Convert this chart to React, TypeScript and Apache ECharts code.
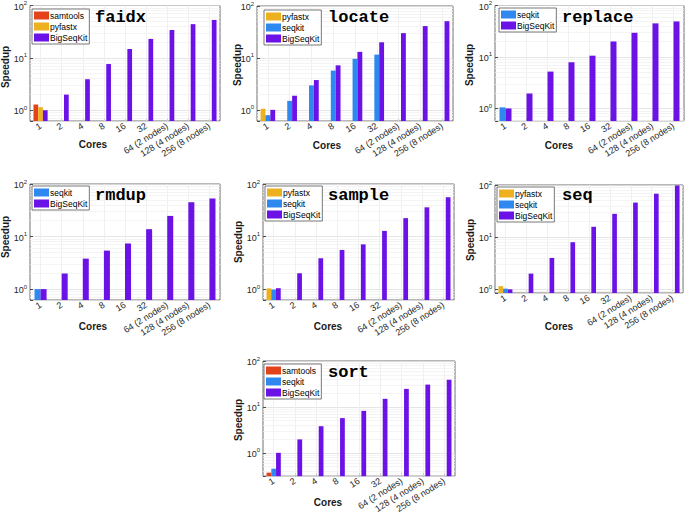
import React, { useEffect, useRef } from 'react';
import * as echarts from 'echarts';

const CORES = ['1', '2', '4', '8', '16', '32', '64 (2 nodes)', '128 (4 nodes)', '256 (8 nodes)'];

const faidxSamtools = [1.28];
const faidxPyfastx = [1.13];
const faidxBigSeqKit = [1.0, 1.98, 3.9, 7.6, 14.8, 23, 34, 44, 53];

const locatePyfastx = [1.05];
const locateSeqkit = [0.79, 1.49, 2.96, 5.7, 9.6, 11.6];
const locateBigSeqKit = [1.0, 1.87, 3.75, 7.2, 13.1, 20, 30, 41, 51];

const replaceSeqkit = [1.05];
const replaceBigSeqKit = [1.0, 1.95, 5.2, 7.9, 10.6, 20, 29.5, 45, 49];

const rmdupSeqkit = [1.0];
const rmdupBigSeqKit = [1.0, 1.98, 3.8, 5.4, 7.4, 13.8, 24.7, 45, 53];

const samplePyfastx = [1.03];
const sampleSeqkit = [0.98];
const sampleBigSeqKit = [1.04, 2.0, 3.86, 5.56, 7.1, 12.8, 22.4, 36, 56];

const seqPyfastx = [1.15];
const seqSeqkit = [1.03];
const seqBigSeqKit = [1.0, 2.0, 4.0, 8.0, 15.8, 28, 46, 68, 98];

const sortSamtools = [0.37];
const sortSeqkit = [0.45];
const sortBigSeqKit = [1.0, 1.96, 3.8, 5.7, 8.2, 15, 24.7, 30.6, 39];

const COLORS: Record<string, string> = {
  samtools: '#E2431B',
  pyfastx: '#EDB120',
  seqkit: '#2E88F0',
  BigSeqKit: '#6B13E6',
};

type Panel = {
  title: string;
  series: [string, number[]][];
  ymin: number;
  grid: { left: number; top: number; width: number; height: number };
  legend: [number, number];
  titlePos: [number, number];
  coresPos: [number, number];
  speedPos: [number, number];
};

const panels: Panel[] = [
  {
    title: 'faidx',
    series: [['samtools', faidxSamtools], ['pyfastx', faidxPyfastx], ['BigSeqKit', faidxBigSeqKit]],
    ymin: 0.62,
    grid: { left: 30, top: 5, width: 190, height: 116 },
    legend: [32, 9], titlePos: [95, 17], coresPos: [93, 144], speedPos: [5, 67],
  },
  {
    title: 'locate',
    series: [['pyfastx', locatePyfastx], ['seqkit', locateSeqkit], ['BigSeqKit', locateBigSeqKit]],
    ymin: 0.61,
    grid: { left: 257, top: 6, width: 196, height: 115 },
    legend: [264, 10], titlePos: [328, 17], coresPos: [327, 145], speedPos: [237, 65],
  },
  {
    title: 'replace',
    series: [['seqkit', replaceSeqkit], ['BigSeqKit', replaceBigSeqKit]],
    ymin: 0.57,
    grid: { left: 495, top: 5, width: 189, height: 116 },
    legend: [499, 8], titlePos: [562, 17], coresPos: [559, 145], speedPos: [469, 65],
  },
  {
    title: 'rmdup',
    series: [['seqkit', rmdupSeqkit], ['BigSeqKit', rmdupBigSeqKit]],
    ymin: 0.62,
    grid: { left: 30, top: 184, width: 190, height: 116 },
    legend: [32, 186], titlePos: [95, 195], coresPos: [93, 326], speedPos: [5, 237],
  },
  {
    title: 'sample',
    series: [['pyfastx', samplePyfastx], ['seqkit', sampleSeqkit], ['BigSeqKit', sampleBigSeqKit]],
    ymin: 0.62,
    grid: { left: 263, top: 184, width: 191, height: 116 },
    legend: [265, 186], titlePos: [328, 195], coresPos: [328, 326], speedPos: [238, 242],
  },
  {
    title: 'seq',
    series: [['pyfastx', seqPyfastx], ['seqkit', seqSeqkit], ['BigSeqKit', seqBigSeqKit]],
    ymin: 0.85,
    grid: { left: 495, top: 185, width: 188, height: 108 },
    legend: [497, 187], titlePos: [562, 195], coresPos: [559, 326], speedPos: [470, 240],
  },
  {
    title: 'sort',
    series: [['samtools', sortSamtools], ['seqkit', sortSeqkit], ['BigSeqKit', sortBigSeqKit]],
    ymin: 0.31,
    grid: { left: 263, top: 361, width: 192, height: 117 },
    legend: [264, 364], titlePos: [328, 372], coresPos: [328, 502], speedPos: [238, 420],
  },
];

const FONT = '"Liberation Sans", Arial, Helvetica, sans-serif';

function buildOption() {
  const grid: any[] = [];
  const xAxis: any[] = [];
  const yAxis: any[] = [];
  const series: any[] = [];
  const legend: any[] = [];
  const graphic: any[] = [];

  panels.forEach((p, i) => {
    grid.push({
      ...p.grid,
      show: true,
      borderColor: '#4d4d4d',
      borderWidth: 0.8,
      backgroundColor: '#fff',
      containLabel: false,
    });
    xAxis.push({
      type: 'category',
      gridIndex: i,
      data: CORES,
      axisLine: { show: false },
      axisTick: { show: true, alignWithLabel: true, inside: true, length: 3, lineStyle: { color: '#4d4d4d' } },
      axisLabel: { interval: 0, rotate: 32, fontSize: 9, margin: 4, color: '#262626', fontFamily: FONT },
      splitLine: { show: false },
    });
    yAxis.push({
      type: 'log',
      logBase: 10,
      gridIndex: i,
      min: p.ymin,
      max: 100,
      startValue: p.ymin,
      axisLine: { show: false },
      axisTick: { show: true, inside: true, length: 3, lineStyle: { color: '#4d4d4d' } },
      splitLine: { show: true, lineStyle: { color: '#dedede', width: 0.8 } },
      axisLabel: {
        margin: 3,
        formatter: (v: number) => {
          const e = Math.log10(v);
          const r = Math.round(e);
          if (Math.abs(e - r) > 1e-6) return '';
          return `{b|10}{s|${r}}`;
        },
        rich: {
          b: { fontSize: 9, color: '#262626', fontFamily: FONT, verticalAlign: 'bottom' },
          s: { fontSize: 6, color: '#262626', fontFamily: FONT, verticalAlign: 'bottom', padding: [0, 0, 5, 0] },
        },
      },
    });

    // faint grid lines (category centres and minor log lines)
    const lines: any[] = [];
    CORES.forEach((_, k) => lines.push({ xAxis: k }));
    for (let d = -1; d < 2; d++) {
      for (let m = 2; m <= 9; m++) {
        const v = m * Math.pow(10, d);
        if (v > p.ymin && v < 100) lines.push({ yAxis: v, lineStyle: { color: '#f1f1f1' } });
      }
    }
    series.push({
      type: 'line',
      name: `_grid${i}`,
      xAxisIndex: i,
      yAxisIndex: i,
      data: [],
      silent: true,
      z: 0,
      markLine: {
        silent: true,
        z: 1,
        symbol: ['none', 'none'],
        label: { show: false },
        lineStyle: { color: '#ececec', width: 0.8, type: 'solid' },
        emphasis: { disabled: true },
        data: lines,
      },
    });

    const n = p.series.length;
    p.series.forEach(([name, data]) => {
      series.push({
        type: 'bar',
        name,
        xAxisIndex: i,
        yAxisIndex: i,
        data,
        z: 8,
        barGap: '0%',
        barCategoryGap: n === 3 ? '33%' : '43%',
        itemStyle: { color: COLORS[name] },
        emphasis: { disabled: true },
      });
    });

    legend.push({
      show: true,
      data: p.series.map((s) => s[0]),
      orient: 'vertical',
      left: p.legend[0],
      top: p.legend[1],
      itemWidth: 15,
      itemHeight: 8,
      itemGap: 2,
      icon: 'rect',
      selectedMode: false,
      backgroundColor: '#fff',
      borderColor: '#555',
      borderWidth: 0.8,
      borderRadius: 0,
      padding: [2, 2, 2, 2],
      textStyle: { fontSize: 8.5, color: '#000', fontFamily: FONT, padding: [0, 0, 0, -4] },
      z: 20,
    });

    graphic.push({
      type: 'text',
      x: p.titlePos[0],
      y: p.titlePos[1],
      z: 30,
      style: {
        text: p.title,
        font: 'bold 17px "Liberation Mono", "Courier New", monospace',
        fill: '#000',
        textAlign: 'left',
        textVerticalAlign: 'middle',
      },
    });
    graphic.push({
      type: 'text',
      x: p.coresPos[0],
      y: p.coresPos[1],
      style: {
        text: 'Cores',
        font: `bold 10px ${FONT}`,
        fill: '#1a1a1a',
        textAlign: 'center',
        textVerticalAlign: 'middle',
      },
    });
    graphic.push({
      type: 'text',
      x: p.speedPos[0],
      y: p.speedPos[1],
      rotation: Math.PI / 2,
      style: {
        text: 'Speedup',
        font: `bold 10px ${FONT}`,
        fill: '#1a1a1a',
        textAlign: 'center',
        textVerticalAlign: 'middle',
      },
    });
  });

  return {
    animation: false,
    backgroundColor: '#fff',
    textStyle: { fontFamily: FONT },
    grid,
    xAxis,
    yAxis,
    series,
    legend,
    graphic,
  };
}

export default function App() {
  const ref = useRef<HTMLDivElement>(null);
  useEffect(() => {
    if (!ref.current) return;
    const chart = echarts.init(ref.current, undefined, { renderer: 'svg' });
    chart.setOption(buildOption() as any);
    return () => chart.dispose();
  }, []);
  return (
    <div
      ref={ref}
      style={{ position: 'fixed', left: 0, top: 0, width: 688, height: 515, background: '#fff' }}
    />
  );
}
